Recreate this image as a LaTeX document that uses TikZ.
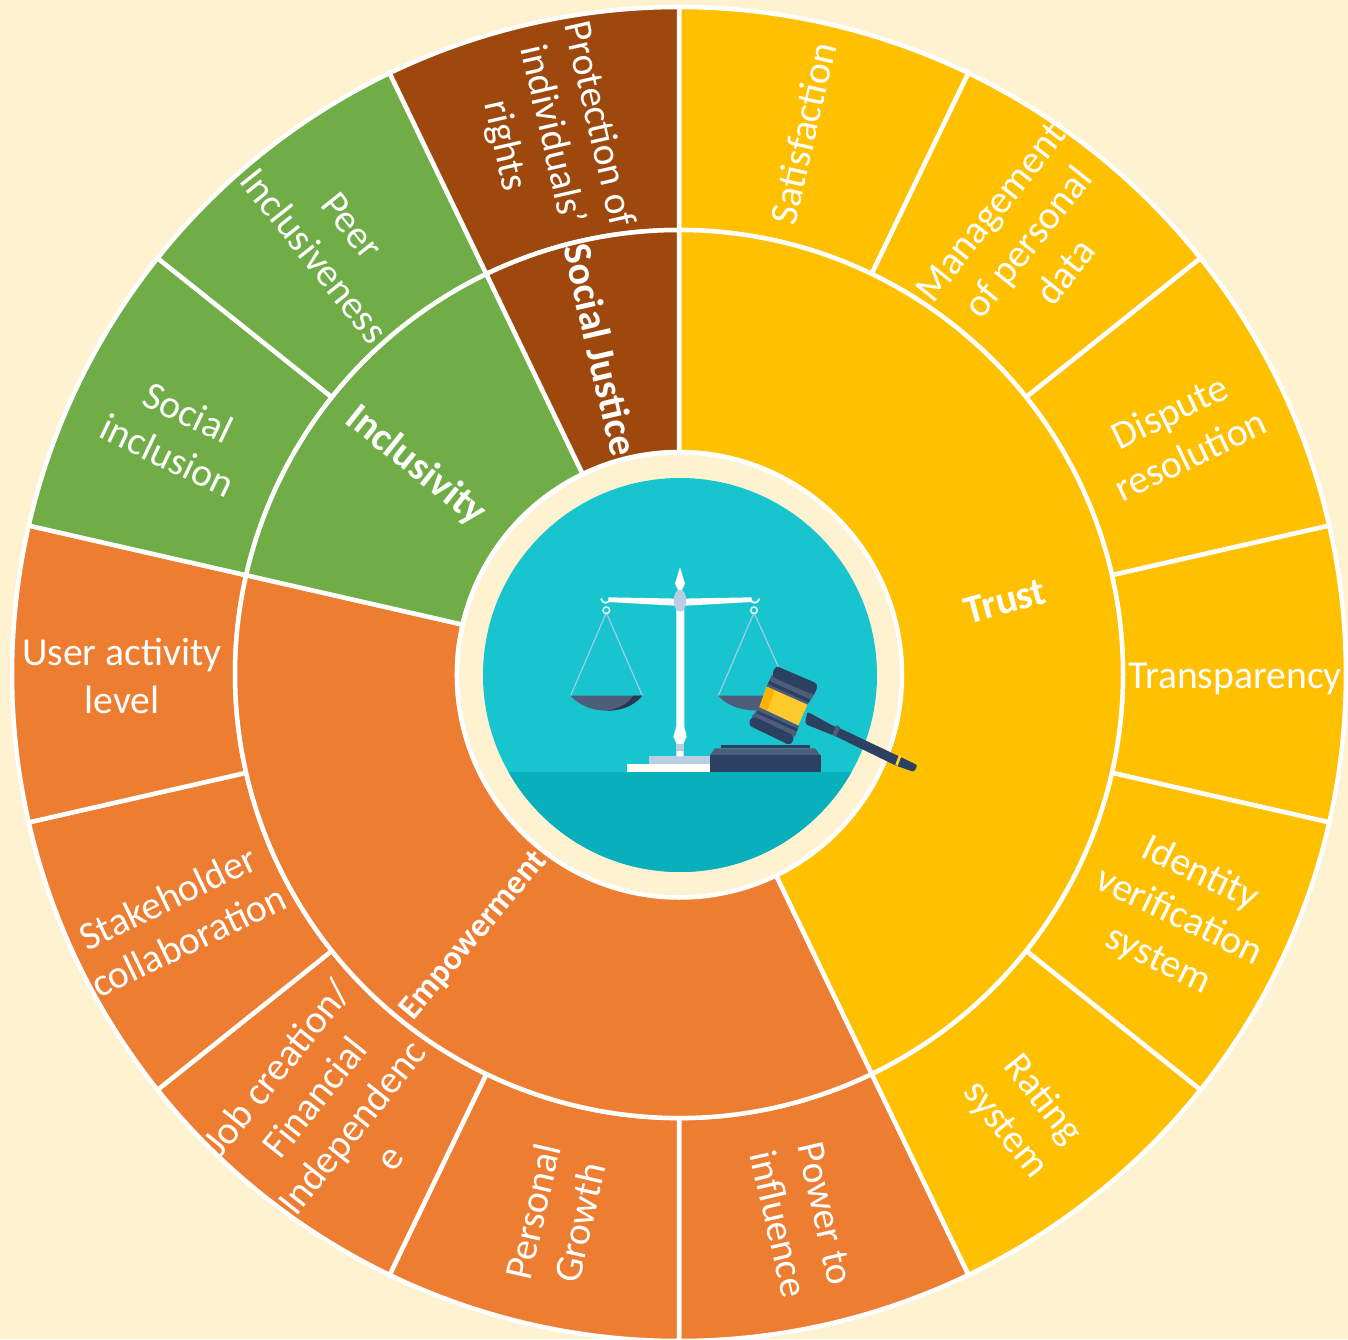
\documentclass[tikz,border=0pt]{standalone}
\usepackage{fontspec}
\setmainfont{Carlito}
\definecolor{bgcream}{RGB}{255,242,208}
\definecolor{gold}{RGB}{255,192,0}
\definecolor{orng}{RGB}{237,125,49}
\definecolor{grn}{RGB}{112,173,71}
\definecolor{brwn}{RGB}{158,72,14}
\definecolor{tealA}{RGB}{24,197,206}
\definecolor{tealB}{RGB}{8,176,187}
\definecolor{navy}{RGB}{44,65,98}
\definecolor{slate}{RGB}{78,93,122}
\definecolor{pale}{RGB}{186,205,227}
\newcommand{\wedgeseg}[5]{\path[fill=#5,draw=white,line width=4.5pt,line join=miter]
  (#1:#3) arc[start angle=#1,end angle=#2,radius=#3] -- (#2:#4) arc[start angle=#2,end angle=#1,radius=#4] -- cycle;}
\newcommand{\lab}[6][thin]{\node[#1,rotate=#5] (#2) at ({#3-679},{674-#4}) {#6};}
\tikzset{
 thin/.style={text=white,align=center,font=\fontsize{39.6}{48}\selectfont,inner sep=0pt},
 bold/.style={text=white,align=center,font=\bfseries\fontsize{40}{48}\selectfont,inner sep=0pt},
 boldsm/.style={bold,font=\bfseries\fontsize{34}{40}\selectfont}
}
\begin{document}
\begin{tikzpicture}[x=1pt,y=1pt]
\useasboundingbox (-679,-665) rectangle (669,674);
\fill[bgcream] (-679,-665) rectangle (669,674);
% outer ring
\def\st{25.7142857}
\foreach \i/\c in {0/gold,1/gold,2/gold,3/gold,4/gold,5/gold,6/orng,7/orng,8/orng,9/orng,10/orng,11/grn,12/grn,13/brwn}{
  \pgfmathsetmacro\aa{90-\i*\st}
  \pgfmathsetmacro\bb{90-(\i+1)*\st}
  \wedgeseg{\aa}{\bb}{667}{444}{\c}
}
% inner ring
\wedgeseg{90}{-64.2857}{444}{222}{gold}
\wedgeseg{-64.2857}{-192.857}{444}{222}{orng}
\wedgeseg{-192.857}{-244.286}{444}{222}{grn}
\wedgeseg{-244.286}{-270}{444}{222}{brwn}
% centre
\filldraw[fill=bgcream,draw=white,line width=4.5pt] (0.5,-1) circle (222.5);
\begin{scope}
\clip (1,-1) circle (197);
\fill[tealA] (-199,-201) rectangle (200,200);
\fill[tealB] (-199,-98.3) rectangle (200,-200);
\end{scope}
% icon, in crop coordinates
\begin{scope}[shift={(-199,194)},x=0.33333pt,y=-0.33333pt]
 \draw[color=pale!85!tealA,line width=1.2pt] (272,647) -- (379,398) -- (487,647);
 \draw[color=pale!85!tealA,line width=1.2pt] (715,647) -- (822,398) -- (895,560);
 \draw[color=white!85!tealA,line width=1.5pt] (379,391) circle (10);
 \draw[color=white!85!tealA,line width=1.5pt] (822,391) circle (10);
 \draw[color=white!90!tealA,line width=1.8pt] (363,356) .. controls (368,372) and (384,372) .. (390,358);
 \draw[color=white!90!tealA,line width=1.8pt] (811,358) .. controls (817,372) and (832,372) .. (839,356);
 \fill[slate] (272,647) -- (487,647) .. controls (460,680) and (420,692) .. (380,692) .. controls (335,692) and (295,675) .. (272,647) -- cycle;
 \fill[navy!85!black] (460,647) -- (487,647) .. controls (460,680) and (420,692) .. (380,692) .. controls (420,685) and (445,670) .. (460,647) -- cycle;
 \fill[slate] (715,647) -- (860,647) -- (840,692) .. controls (780,692) and (738,675) .. (715,647) -- cycle;
 % base
 \fill[white] (442,853) rectangle (692,877);
 \fill[pale] (507,829) rectangle (692,853);
 % column
 \fill[white] (600,262) -- (615,310) -- (606,330) -- (613,395) -- (613,740) -- (620,770) -- (611,790) -- (611,829) -- (589,829) -- (589,790) -- (580,770) -- (589,740) -- (589,395) -- (594,330) -- (585,310) -- cycle;
 \fill[pale] (589,792) -- (611,792) -- (611,812) -- (589,812) -- cycle;
 % beam
 \fill[white] (385,352) -- (600,356) -- (815,352) -- (815,366) -- (600,378) -- (385,366) -- cycle;
 \fill[pale] (600,362) ellipse (19 and 33);
 % block
 \fill[navy] (722,795) rectangle (990,805);
 \fill[slate] (705,805) -- (1005,805) -- (1022,826) -- (690,826) -- cycle;
 \fill[navy] (690,826) rectangle (1024,877);
 % gavel handle
 \fill[navy,rounded corners=2pt] (982,695) -- (1060,738) -- (1080,745) -- (1312,855) -- (1303,876) -- (1250,858) -- (1065,768) -- (975,732) -- cycle;
 \fill[slate] (1070,735) -- (1080,742) -- (1068,770) -- (1057,764) -- cycle;
 \fill[gold!80!white] (1258,822) -- (1265,826) -- (1253,858) -- (1246,854) -- cycle;
 % gavel head
 \fill[slate] (875,585) -- (1005,640) -- (982,674) -- (860,620) -- cycle;
 \fill[navy,rounded corners=4pt] (886,557) -- (1015,612) -- (1003,646) -- (875,590) -- cycle;
 \fill[navy] (868,603) -- (991,658) -- (986,668) -- (864,612) -- cycle;
 \fill[yellow!55!orange!85!white] (860,620) -- (982,674) -- (955,736) -- (838,682) -- cycle;
 \fill[gold!75!orange] (860,620) -- (884,631) -- (862,692) -- (838,682) -- cycle;
 \fill[slate] (838,682) -- (957,738) -- (945,770) -- (815,710) -- cycle;
 \fill[navy] (833,692) -- (953,746) -- (950,754) -- (830,700) -- cycle;
 \fill[navy,rounded corners=4pt] (816,707) -- (945,768) -- (932,797) -- (804,735) -- cycle;
\end{scope}
% labels
\lab{satisfaction}{803}{133}{77.1}{Satisfaction}
\lab{management}{1028}{242}{51.4}{Management\\of personal\\data}
\lab{dispute}{1180}{433}{25.7}{Dispute\\resolution}
\lab{transparency}{1235}{679}{0}{Transparency}
\lab{identity}{1179}{917}{-25.7}{Identity\\verification\\system}
\lab{rating}{1024}{1115}{-51.4}{Rating\\system}
\lab{power}{802}{1219}{-77.1}{Power to\\influence}
\lab{growth}{556}{1217}{77.1}{Personal\\Growth}
\lab{job}{333}{1112}{51.4}{Job creation/\\Financial\\Independenc\\e}
\lab{stakeholder}{178}{919}{25.7}{Stakeholder\\collaboration}
\lab{user}{122}{676}{0}{User activity\\level}
\lab{social}{178}{434}{-25.7}{Social\\inclusion}
\lab{peer}{333}{241}{-51.4}{Peer\\Inclusiveness}
\lab{protection}{551}{135}{-77.1}{Protection of\\individuals'\\rights}
\lab[bold]{justice}{601}{350}{-77}{Social Justice}
\lab[bold]{inclusivity}{416}{466}{-38.6}{Inclusivity}
\lab[bold]{trust}{1005}{601}{15}{Trust}
\lab[boldsm]{empowerment}{474}{936}{50}{Empowerment}
\end{tikzpicture}
\end{document}
